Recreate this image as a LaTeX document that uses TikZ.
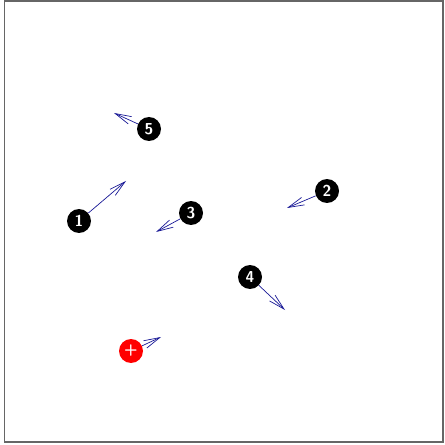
\documentclass[tikz,border=0pt]{standalone}
\usepackage{tikz}
\usetikzlibrary{arrows.meta}

\begin{document}
\begin{tikzpicture}[
  x=0.02cm, y=-0.02cm,
  every node/.style={
    circle,
    fill=black,
    minimum size=4.8mm,
    inner sep=0pt,
    text=white,
    font=\sffamily\bfseries\small
  },
  move/.style={
    -{Straight Barb[length=3.2mm,width=1.6mm]},
    draw={rgb,255:red,25;green,25;blue,150},
    thin
  }
]
  \useasboundingbox (0,0) rectangle (444,445);
  \draw[gray!80!black, line width=0.6pt] (4.5,1) rectangle (443,442);

  \node (p1) at (79,221) {1};
  \node (p2) at (327,191) {2};
  \node (p3) at (191,213) {3};
  \node (p4) at (250,277) {4};
  \node (p5) at (149,129) {5};
  \node[fill=red] (ball) at (131,351) {+};

  \coordinate (t1) at (126,181);
  \coordinate (t2) at (287,208);
  \coordinate (t3) at (156,232);
  \coordinate (t4) at (285,310);
  \coordinate (t5) at (114,113);
  \coordinate (tb) at (161,337);

  \draw[move] (p1) -- (t1);
  \draw[move] (p2) -- (t2);
  \draw[move] (p3) -- (t3);
  \draw[move] (p4) -- (t4);
  \draw[move] (p5) -- (t5);
  \draw[move] (ball) -- (tb);
\end{tikzpicture}
\end{document}
